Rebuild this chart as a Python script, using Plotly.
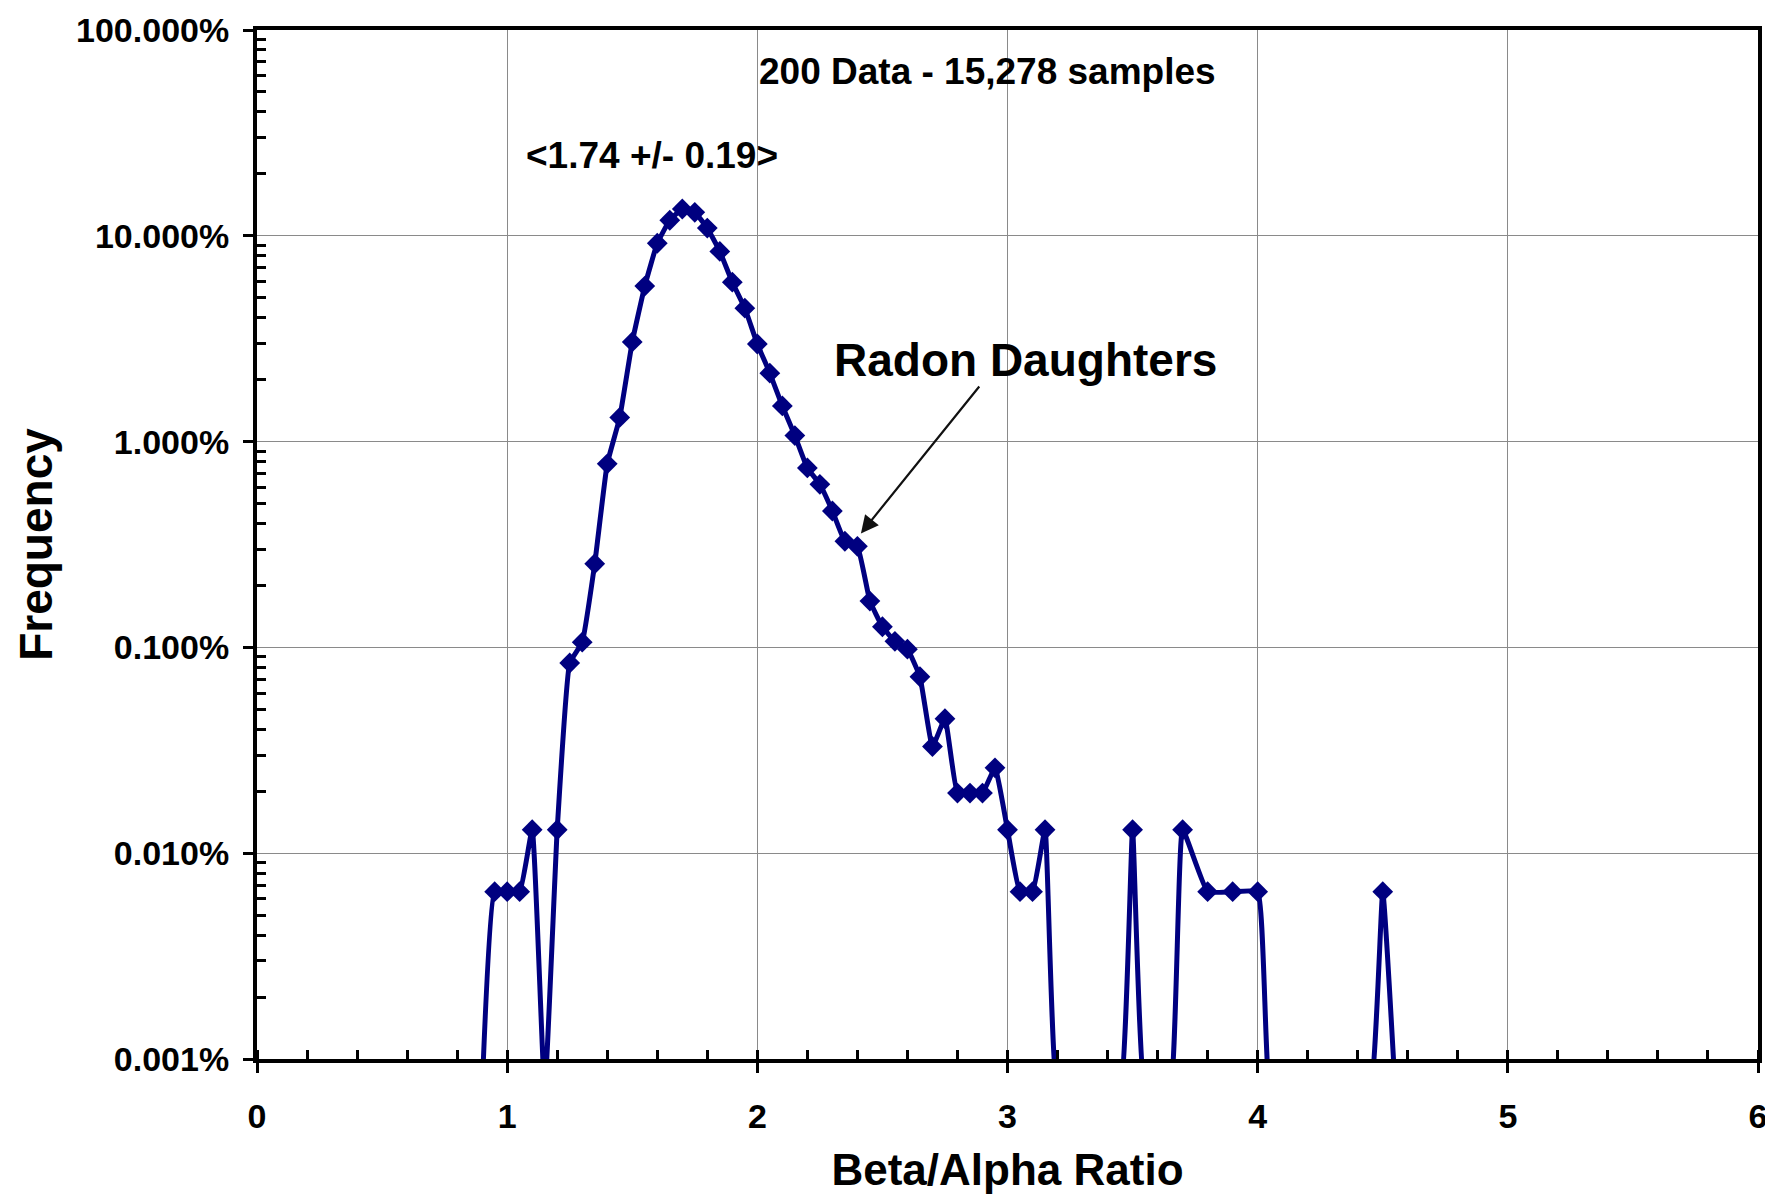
import plotly.graph_objects as go

# Beta/Alpha ratio bins and frequency (% of samples); 0 = empty bin
ratio = [0.90, 0.95, 1.00, 1.05, 1.10, 1.15, 1.20, 1.25, 1.30, 1.35,
         1.40, 1.45, 1.50, 1.55, 1.60, 1.65, 1.70, 1.75, 1.80, 1.85,
         1.90, 1.95, 2.00, 2.05, 2.10, 2.15, 2.20, 2.25, 2.30, 2.35,
         2.40, 2.45, 2.50, 2.55, 2.60, 2.65, 2.70, 2.75, 2.80, 2.85,
         2.90, 2.95, 3.00, 3.05, 3.10, 3.15, 3.20, 3.25, 3.30, 3.35,
         3.40, 3.45, 3.50, 3.55, 3.60, 3.65, 3.70, 3.80, 3.90, 4.00,
         4.05, 4.10, 4.20, 4.30, 4.40, 4.45, 4.50, 4.55]
freq_pct = [0, 0.0065, 0.0065, 0.0065, 0.013, 0, 0.013, 0.084, 0.106, 0.255,
            0.78, 1.31, 3.05, 5.7, 9.2, 11.9, 13.5, 13.0, 10.9, 8.4,
            5.95, 4.45, 2.98, 2.15, 1.49, 1.07, 0.745, 0.62, 0.46, 0.328,
            0.31, 0.168, 0.126, 0.107, 0.098, 0.072, 0.033, 0.045, 0.0196, 0.0196,
            0.0196, 0.026, 0.013, 0.0065, 0.0065, 0.013, 0, 0, 0, 0,
            0, 0, 0.013, 0, 0, 0, 0.013, 0.0065, 0.0065, 0.0065,
            0, 0, 0, 0, 0, 0, 0.0065, 0]

y_ticks = [0.001, 0.01, 0.1, 1, 10, 100]
x_ticks = [0, 1, 2, 3, 4, 5, 6]

ZERO_FLOOR = 0.0007  # empty bins drawn just below the axis, as a log scale cannot show 0
y_plot = [v if v > 0 else ZERO_FLOOR for v in freq_pct]

NAVY = "#000080"
FONT = "Liberation Sans, Arial, sans-serif"

minor_y = [k * d for d in y_ticks[:-1] for k in range(2, 10)]

fig = go.Figure()
fig.add_trace(go.Scatter(
    x=ratio, y=y_plot, mode="lines+markers",
    line=dict(color=NAVY, width=5, shape="spline", smoothing=0.35),
    marker=dict(symbol="diamond", size=16, color=NAVY),
    showlegend=False,
))

fig.add_annotation(x=2.0, y=1.80, text="200 Data - 15,278 samples", showarrow=False,
                   xanchor="left", font=dict(size=37, family=FONT, weight=700, color="black"))
fig.add_annotation(x=1.58, y=1.39, text="<1.74 +/- 0.19>", showarrow=False,
                   font=dict(size=37, family=FONT, weight=700, color="black"))
fig.add_annotation(x=3.07, y=0.395, text="Radon Daughters", showarrow=False,
                   font=dict(size=46, family=FONT, weight=700, color="black"))
fig.add_annotation(x=2.414, y=-0.446, ax=2.892, ay=0.275, axref="x", ayref="y",
                   text="", showarrow=True, arrowhead=2, arrowsize=1.6,
                   arrowwidth=2.2, arrowcolor="#111")

fig.update_xaxes(
    range=[0, 6], tickvals=x_ticks, ticktext=[str(v) for v in x_ticks],
    showline=True, linewidth=4, linecolor="black", mirror=True,
    ticks="outside", ticklen=10, tickwidth=3, tickcolor="black",
    ticklabelstandoff=14, ticklabeloverflow="allow",
    minor=dict(ticks="inside", dtick=0.2, ticklen=9, tickwidth=3, tickcolor="black", showgrid=False),
    showgrid=True, gridcolor="#8a8a8a", gridwidth=1, zeroline=False,
    tickfont=dict(size=34, family=FONT, weight=700, color="black"),
    title=dict(text="Beta/Alpha Ratio", standoff=44,
               font=dict(size=44, family=FONT, weight=700, color="black")),
)
fig.update_yaxes(
    type="log", range=[-3, 2],
    tickvals=y_ticks, ticktext=[f"{v:.3f}%" for v in y_ticks],
    showline=True, linewidth=4, linecolor="black", mirror=True,
    ticks="outside", ticklen=10, tickwidth=3, tickcolor="black",
    ticklabelstandoff=7, ticklabeloverflow="allow",
    minor=dict(ticks="inside", tickvals=minor_y, ticklen=9, tickwidth=3, tickcolor="black", showgrid=False),
    showgrid=True, gridcolor="#8a8a8a", gridwidth=1, zeroline=False,
    tickfont=dict(size=34, family=FONT, weight=700, color="black"),
    title=dict(text="Frequency", standoff=10,
               font=dict(size=46, family=FONT, weight=700, color="black")),
)

# the page body has an 8px margin, so the figure starts 8px in from the top-left
fig.update_layout(
    width=1765, height=1186,
    margin=dict(l=249, r=15, t=22, b=135, autoexpand=False),
    plot_bgcolor="white", paper_bgcolor="white",
)

fig.write_html("out.html")
